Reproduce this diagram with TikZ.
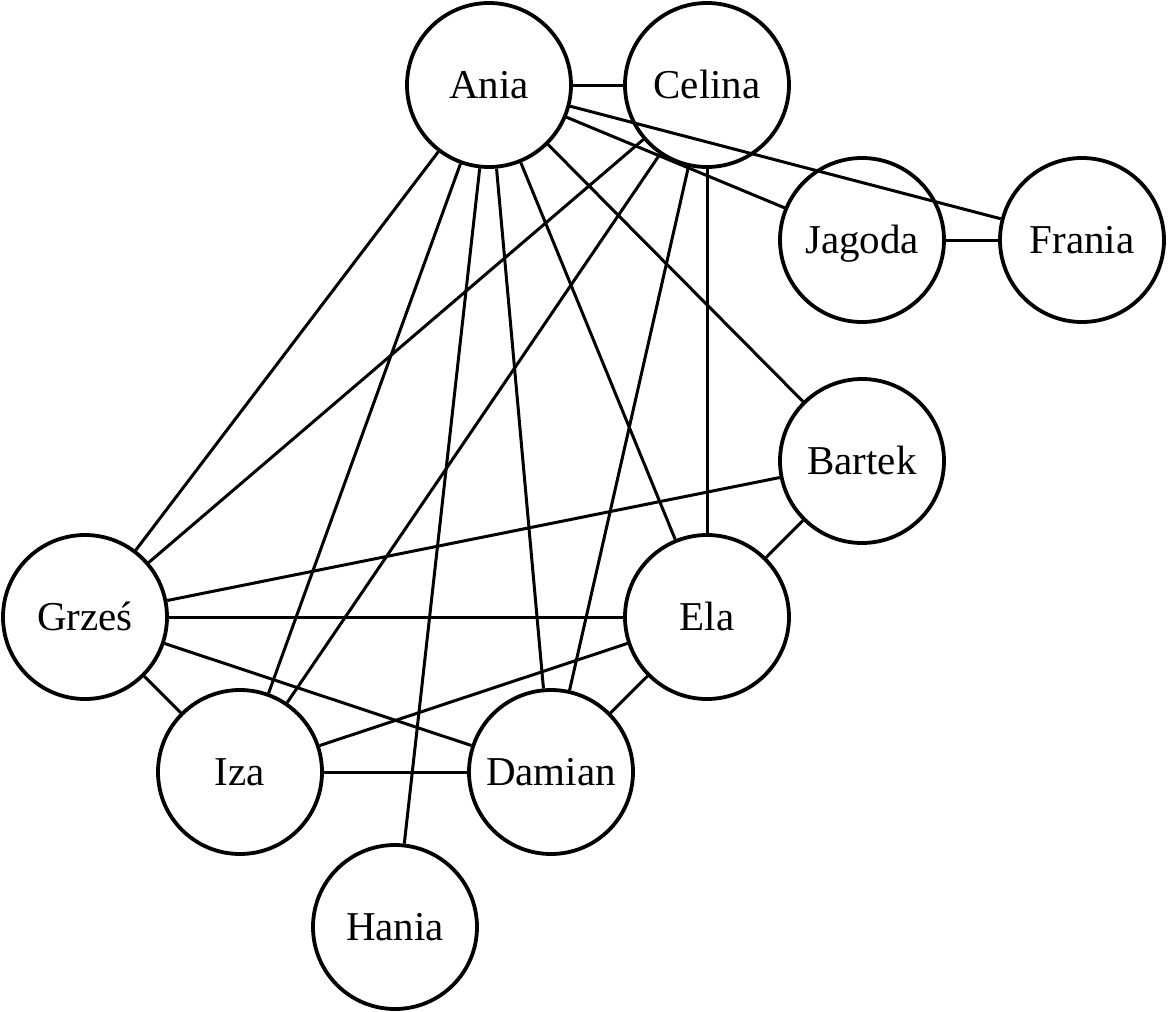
\documentclass[tikz,border=0pt]{standalone}
\usepackage{fontspec}
\setmainfont{Liberation Serif}
\begin{document}
\begin{tikzpicture}[x=1pt,y=-1pt,
  person/.style={circle,draw,line width=3.8pt,minimum size=164pt,inner sep=0pt,
    font=\fontsize{41}{48}\selectfont,text height=27pt,text depth=0pt},
  link/.style={line width=3pt}]
\useasboundingbox (0,0) rectangle (1168,1012);
\node[person] (ania) at (489,85) {Ania};
\node[person] (celina) at (707,85) {Celina};
\node[person] (jagoda) at (862,240) {Jagoda};
\node[person] (frania) at (1082,240) {Frania};
\node[person] (bartek) at (862,461) {Bartek};
\node[person] (ela) at (707,617) {Ela};
\node[person] (grzes) at (85,617) {Grześ};
\node[person] (iza) at (240,772) {Iza};
\node[person] (damian) at (551,772) {Damian};
\node[person] (hania) at (395,927) {Hania};
\foreach \a/\b in {ania/celina,ania/frania,ania/jagoda,ania/bartek,ania/ela,ania/damian,ania/hania,ania/iza,ania/grzes,
  celina/grzes,celina/iza,celina/damian,celina/ela,jagoda/frania,bartek/ela,bartek/grzes,
  grzes/ela,grzes/iza,grzes/damian,ela/iza,ela/damian,iza/damian}
  \draw[link] (\a) -- (\b);
\end{tikzpicture}
\end{document}
